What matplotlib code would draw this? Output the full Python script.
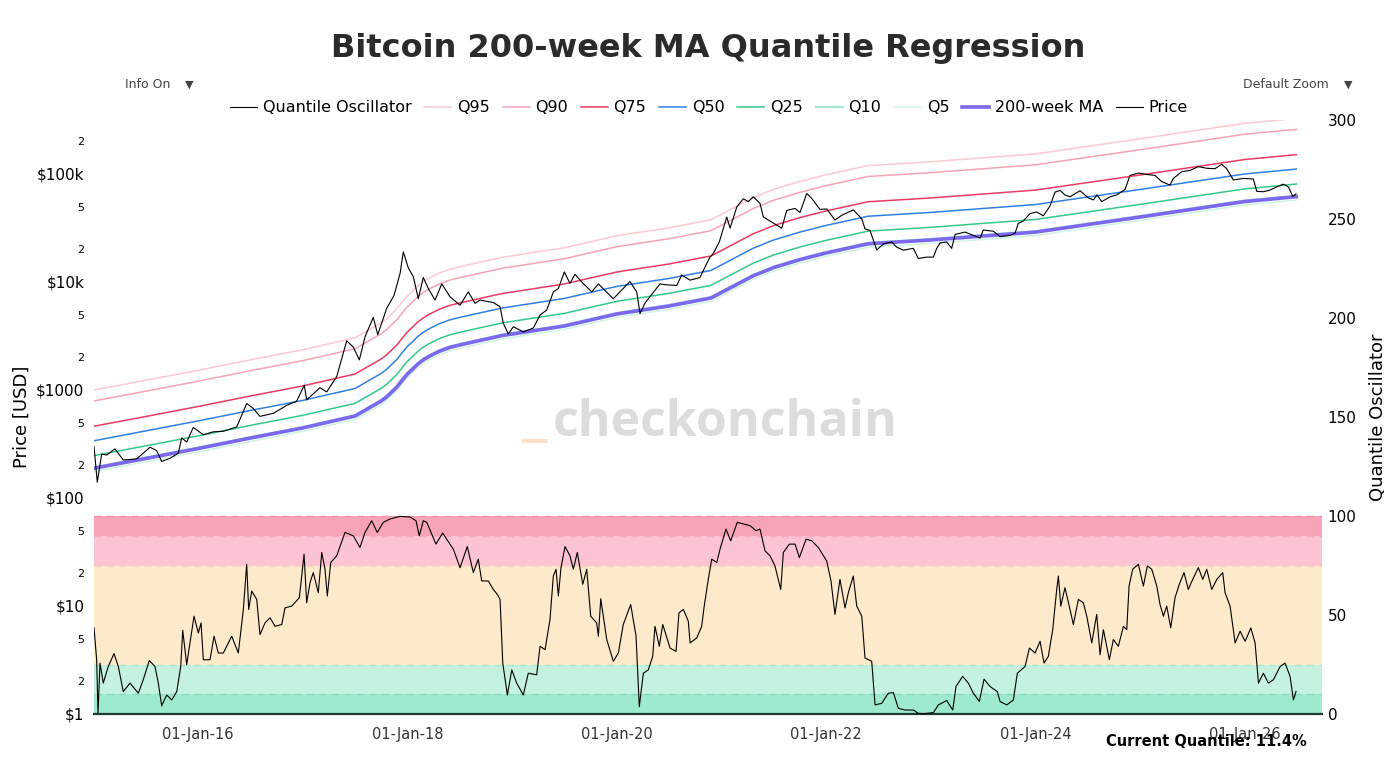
import matplotlib
matplotlib.use("Agg")
from matplotlib import pyplot as plt

# time axis is in decimal years

# Bitcoin price (USD)
price_t = [2015.007, 2015.038, 2015.080, 2015.128, 2015.207, 2015.286, 2015.414, 2015.541, 2015.605, 2015.653,
           2015.733, 2015.812, 2015.844, 2015.892, 2015.955, 2016.051, 2016.146, 2016.242, 2016.370, 2016.465,
           2016.528, 2016.592, 2016.719, 2016.847, 2016.943, 2017.015, 2017.038, 2017.165, 2017.229, 2017.325,
           2017.420, 2017.483, 2017.541, 2017.595, 2017.674, 2017.717, 2017.802, 2017.872, 2017.930, 2017.961,
           2018.009, 2018.057, 2018.104, 2018.152, 2018.200, 2018.264, 2018.328, 2018.407, 2018.503, 2018.582,
           2018.646, 2018.694, 2018.821, 2018.885, 2018.916, 2018.964, 2019.012, 2019.107, 2019.203, 2019.267,
           2019.331, 2019.394, 2019.442, 2019.499, 2019.553, 2019.601, 2019.665, 2019.761, 2019.824, 2019.967,
           2020.126, 2020.190, 2020.222, 2020.270, 2020.349, 2020.413, 2020.477, 2020.573, 2020.620, 2020.700,
           2020.795, 2020.859, 2020.891, 2020.922, 2020.980, 2021.050, 2021.082, 2021.146, 2021.209, 2021.257,
           2021.304, 2021.368, 2021.400, 2021.448, 2021.528, 2021.576, 2021.623, 2021.703, 2021.750, 2021.814,
           2021.862, 2021.941, 2022.005, 2022.084, 2022.149, 2022.259, 2022.340, 2022.371, 2022.419, 2022.483,
           2022.546, 2022.626, 2022.674, 2022.737, 2022.833, 2022.880, 2022.960, 2023.024, 2023.056, 2023.088,
           2023.151, 2023.199, 2023.231, 2023.326, 2023.406, 2023.470, 2023.501, 2023.597, 2023.661, 2023.756,
           2023.804, 2023.835, 2023.883, 2023.947, 2024.011, 2024.074, 2024.138, 2024.186, 2024.234, 2024.281,
           2024.329, 2024.425, 2024.504, 2024.552, 2024.587, 2024.632, 2024.712, 2024.775, 2024.855, 2024.902,
           2024.982, 2025.062, 2025.141, 2025.205, 2025.284, 2025.316, 2025.396, 2025.476, 2025.555, 2025.635,
           2025.714, 2025.778, 2025.826, 2025.889, 2025.985, 2026.080, 2026.113, 2026.176, 2026.240, 2026.304,
           2026.367, 2026.415, 2026.457, 2026.488]
price_v = [298, 140, 255, 250, 285, 225, 230, 295, 275, 218,
           233, 260, 360, 330, 450, 385, 410, 415, 455, 750,
           675, 570, 608, 720, 790, 1110, 810, 1050, 960, 1330,
           2850, 2500, 1900, 3100, 4700, 3250, 5700, 7500, 12000, 19000,
           13500, 11200, 7000, 11000, 8700, 6800, 9600, 7300, 6100, 8100,
           6350, 6800, 6450, 5900, 4150, 3300, 3850, 3450, 3750, 4950,
           5500, 8100, 8700, 12400, 9700, 11800, 10000, 8100, 9600, 7000,
           10100, 8100, 5100, 6400, 8000, 9600, 9400, 9300, 11600, 10400,
           11000, 14800, 17000, 18400, 23600, 40000, 31500, 49500, 59000, 55500,
           61500, 53500, 40000, 37500, 33700, 31500, 46000, 48000, 44000, 66000,
           59500, 47000, 47500, 37500, 41500, 46500, 38500, 31000, 30000, 19800,
           22500, 23500, 21000, 19700, 20500, 16500, 17000, 17000, 20500, 23000,
           23500, 20500, 27500, 29000, 27000, 25500, 30300, 29500, 26300, 27000,
           28300, 34900, 36700, 43000, 44500, 41000, 50500, 68000, 70500, 64000,
           61500, 70000, 60000, 57500, 64000, 55500, 61500, 64000, 72000, 97000,
           102000, 99000, 97000, 85000, 79000, 91000, 105000, 108000, 117000, 113000,
           112000, 123000, 112000, 88000, 91000, 90000, 69000, 68500, 71000, 76000,
           80500, 76000, 62000, 65500]

# quantile oscillator (0-100)
osc_t = [2015.007, 2015.032, 2015.045, 2015.064, 2015.095, 2015.143, 2015.198, 2015.239, 2015.286, 2015.350,
         2015.430, 2015.477, 2015.535, 2015.589, 2015.621, 2015.653, 2015.701, 2015.749, 2015.797, 2015.835,
         2015.854, 2015.892, 2015.962, 2016.003, 2016.029, 2016.051, 2016.115, 2016.153, 2016.194, 2016.242,
         2016.322, 2016.385, 2016.433, 2016.465, 2016.484, 2016.513, 2016.561, 2016.592, 2016.640, 2016.688,
         2016.736, 2016.800, 2016.831, 2016.895, 2016.968, 2017.013, 2017.038, 2017.070, 2017.101, 2017.149,
         2017.182, 2017.213, 2017.235, 2017.268, 2017.325, 2017.404, 2017.483, 2017.547, 2017.595, 2017.659,
         2017.712, 2017.770, 2017.834, 2017.930, 2018.025, 2018.082, 2018.114, 2018.152, 2018.185, 2018.273,
         2018.337, 2018.439, 2018.503, 2018.572, 2018.630, 2018.677, 2018.710, 2018.773, 2018.821, 2018.859,
         2018.885, 2018.911, 2018.955, 2018.997, 2019.044, 2019.107, 2019.155, 2019.235, 2019.267, 2019.315,
         2019.362, 2019.394, 2019.420, 2019.442, 2019.467, 2019.506, 2019.553, 2019.585, 2019.623, 2019.675,
         2019.713, 2019.751, 2019.808, 2019.824, 2019.847, 2019.904, 2019.967, 2020.015, 2020.062, 2020.133,
         2020.184, 2020.215, 2020.254, 2020.301, 2020.343, 2020.365, 2020.406, 2020.439, 2020.509, 2020.566,
         2020.594, 2020.636, 2020.683, 2020.700, 2020.764, 2020.811, 2020.833, 2020.874, 2020.907, 2020.955,
         2020.986, 2021.043, 2021.088, 2021.151, 2021.209, 2021.273, 2021.330, 2021.368, 2021.416, 2021.464,
         2021.511, 2021.566, 2021.591, 2021.648, 2021.703, 2021.744, 2021.808, 2021.862, 2021.925, 2022.005,
         2022.046, 2022.084, 2022.132, 2022.180, 2022.212, 2022.259, 2022.292, 2022.340, 2022.371, 2022.435,
         2022.467, 2022.531, 2022.594, 2022.642, 2022.689, 2022.753, 2022.833, 2022.880, 2022.944, 2023.024,
         2023.072, 2023.151, 2023.209, 2023.240, 2023.304, 2023.358, 2023.406, 2023.463, 2023.508, 2023.565,
         2023.635, 2023.661, 2023.725, 2023.788, 2023.826, 2023.900, 2023.941, 2023.995, 2024.043, 2024.081,
         2024.122, 2024.164, 2024.202, 2024.218, 2024.241, 2024.281, 2024.329, 2024.361, 2024.409, 2024.456,
         2024.489, 2024.537, 2024.584, 2024.616, 2024.648, 2024.705, 2024.743, 2024.791, 2024.839, 2024.871,
         2024.893, 2024.928, 2024.982, 2025.030, 2025.068, 2025.110, 2025.158, 2025.189, 2025.221, 2025.253,
         2025.291, 2025.332, 2025.373, 2025.418, 2025.459, 2025.501, 2025.555, 2025.597, 2025.635, 2025.683,
         2025.731, 2025.788, 2025.810, 2025.858, 2025.906, 2025.954, 2026.002, 2026.056, 2026.097, 2026.129,
         2026.176, 2026.224, 2026.272, 2026.336, 2026.383, 2026.431, 2026.463, 2026.488]
osc_v = [43.5, 27.4, 0.5, 25.7, 15.6, 24, 30.5, 24, 11.3, 15.6,
         10.5, 17.3, 27, 24, 15.6, 4.1, 9.6, 7.1, 11.3, 24,
         42.3, 24.9, 49.4, 40.9, 46, 27.4, 27.4, 39.3, 30.8, 30.8,
         39.3, 30.8, 52.8, 75.6, 52.8, 62.1, 57.9, 40.1, 46, 48.6,
         44.3, 45.2, 53.6, 54.5, 58.7, 80.7, 56.2, 66.3, 71.4, 61.3,
         81.6, 73.1, 59.6, 76.5, 79.9, 91.7, 90, 84.1, 91.7, 97.6,
         91.7, 96.8, 98.5, 99.8, 99.5, 97.6, 90, 97.6, 96.8, 85.8,
         91.4, 83.2, 73.9, 84.6, 71.4, 78.2, 67.2, 67.2, 62.9, 60.4,
         57.9, 25.7, 9.6, 22.3, 15.6, 9.6, 20.6, 19.8, 34.2, 32.5,
         47.7, 69.7, 73.1, 59.6, 73.9, 84.6, 79.9, 73.1, 81.6, 65.5,
         73.1, 49.4, 46, 39.3, 58.2, 37.6, 26.6, 30.8, 45.2, 55.3,
         39.3, 3.7, 20.6, 22.3, 29.1, 44.3, 34.2, 45.2, 33.3, 31.6,
         51.1, 52.8, 46.9, 35.9, 38.4, 44.3, 53.6, 68, 78.2, 76.5,
         83.2, 93.4, 87.5, 96.8, 96, 95.1, 92.6, 93.4, 82.4, 79.9,
         74.8, 62.9, 81.6, 85.8, 85.8, 79, 88.3, 87.5, 84.1, 77.3,
         67.2, 50.3, 68, 53.6, 61.3, 69.7, 54.5, 49.4, 28.3, 26.6,
         4.6, 5.4, 10.5, 10.8, 2.9, 2, 2, 0.3, 0.2, 0.7,
         4.6, 6.8, 2, 13.9, 19, 15.6, 10.5, 6.3, 17.6, 13.9,
         11.3, 6.3, 4.6, 7.1, 20.6, 24, 33.3, 30.8, 36.7, 25.7,
         29.1, 42.6, 62.9, 69.7, 54.5, 63.8, 52.8, 45.2, 57.9, 56.2,
         49.4, 35.9, 50.3, 29.9, 42.6, 27.4, 37.6, 34.2, 44.3, 42.6,
         64.6, 73.1, 75.6, 64.6, 74.8, 73.1, 64.6, 55.3, 49.4, 54.5,
         43.5, 58.7, 65.5, 71.4, 62.9, 68, 73.9, 68, 73.1, 62.9,
         68, 71.4, 61.3, 54.5, 35.9, 41.8, 36.7, 43.5, 35.9, 15.6,
         20.6, 15.6, 17.3, 24, 25.7, 19, 7.1, 11.4]

# smooth model lines
band_t = [2015.0, 2015.5, 2016.0, 2016.5, 2017.0, 2017.5, 2017.75, 2017.8, 2017.9, 2017.95,
          2018.0, 2018.05, 2018.1, 2018.15, 2018.2, 2018.3, 2018.4, 2018.5, 2018.9, 2019.5,
          2020.0, 2020.5, 2020.9, 2021.1, 2021.3, 2021.5, 2021.75, 2022.0, 2022.4, 2023.0,
          2024.0, 2025.0, 2026.0, 2026.49]
ma200 = [188, 232, 287, 359, 445, 574, 791, 860, 1066, 1230,
         1406, 1560, 1740, 1896, 2030, 2272, 2470, 2612, 3184, 3915,
         5055, 5995, 7110, 8990, 11370, 13620, 16110, 18570, 22580, 24490,
         28970, 39980, 55620, 61640]
q95 = [996, 1230, 1521, 1903, 2359, 3042, 4192, 4558, 5650, 6519,
       7452, 8268, 9222, 10050, 10760, 12040, 13090, 13840, 16880, 20750,
       26790, 31770, 37680, 47650, 60260, 72190, 85380, 98420, 119700, 129800,
       153500, 211900, 294800, 326700]
q90 = [790, 974, 1205, 1508, 1869, 2411, 3322, 3612, 4477, 5166,
       5905, 6552, 7308, 7963, 8526, 9542, 10370, 10970, 13370, 16440,
       21230, 25180, 29860, 37760, 47750, 57200, 67660, 77990, 94840, 102900,
       121700, 167900, 233600, 258900]
q75 = [461, 568, 703, 880, 1090, 1406, 1938, 2107, 2612, 3014,
       3445, 3822, 4263, 4645, 4974, 5566, 6052, 6399, 7801, 9592,
       12380, 14690, 17420, 22030, 27860, 33370, 39470, 45500, 55320, 60000,
       70980, 97950, 136300, 151000]
q50 = [338, 418, 517, 646, 801, 1033, 1424, 1548, 1919, 2214,
       2531, 2808, 3132, 3413, 3654, 4090, 4446, 4702, 5731, 7047,
       9099, 10790, 12800, 16180, 20470, 24520, 29000, 33430, 40640, 44080,
       52150, 71960, 100100, 111000]
q25 = [246, 304, 376, 470, 583, 752, 1036, 1127, 1396, 1611,
       1842, 2044, 2279, 2484, 2659, 2976, 3236, 3422, 4171, 5129,
       6622, 7853, 9314, 11780, 14890, 17840, 21100, 24330, 29580, 32080,
       37950, 52370, 72860, 80750]
q10 = [192, 237, 293, 366, 454, 585, 807, 877, 1087, 1255,
       1434, 1591, 1775, 1934, 2071, 2317, 2519, 2664, 3248, 3993,
       5156, 6115, 7252, 9170, 11600, 13890, 16430, 18940, 23030, 24980,
       29550, 40780, 56730, 62870]
q5 = [175, 216, 267, 334, 414, 534, 736, 800, 991, 1144,
      1308, 1451, 1618, 1763, 1888, 2113, 2297, 2429, 2961, 3641,
      4701, 5575, 6612, 8361, 10570, 12670, 14980, 17270, 21000, 22780,
      26940, 37180, 51730, 57330]

# oscillator zones
zone_edges = [0, 10, 25, 75, 90, 100]
zone_colors = ["#9deacc", "#c4f2de", "#fdeacb", "#fcc4d2", "#f9a4b6"]
zone_lines = ["#86dcb8", "#a9e6cb", "#f3d9b0", "#f6adbf", "#f28ea5"]

x_ticks = [2016, 2018, 2020, 2022, 2024, 2026]
x_labels = ["01-Jan-16", "01-Jan-18", "01-Jan-20", "01-Jan-22", "01-Jan-24", "01-Jan-26"]
y_major = [1, 10, 100, 1000, 10000, 100000]
y_major_lab = ["$1", "$10", "$100", "$1000", "$10k", "$100k"]
y_minor = [2, 5, 20, 50, 200, 500, 2000, 5000, 20000, 50000, 200000]
y_minor_lab = ["2", "5", "2", "5", "2", "5", "2", "5", "2", "5", "2"]
r_ticks = [0, 50, 100, 150, 200, 250, 300]

W, H = 1393, 782
fig = plt.figure(figsize=(W / 100, H / 100), dpi=100)
ax = fig.add_axes([94 / W, 68 / H, 1228 / W, 594 / H])
ax2 = ax.twinx()

lines = {}
lines["Q95"], = ax.plot(band_t, q95, color="#fcc9d3", lw=1.1)
lines["Q90"], = ax.plot(band_t, q90, color="#f7a3b6", lw=1.1)
lines["Q75"], = ax.plot(band_t, q75, color="#eb3b62", lw=1.1)
lines["Q50"], = ax.plot(band_t, q50, color="#2f80e6", lw=1.1)
lines["Q25"], = ax.plot(band_t, q25, color="#34c98a", lw=1.1)
lines["Q10"], = ax.plot(band_t, q10, color="#a6e8cc", lw=1.6)
lines["Q5"], = ax.plot(band_t, q5, color="#cff4e4", lw=1.1)
lines["200-week MA"], = ax.plot(band_t, ma200, color="#7b68ee", lw=2.6)
lines["Price"], = ax.plot(price_t, price_v, color="black", lw=0.8)

for lo, hi, c in zip(zone_edges[:-1], zone_edges[1:], zone_colors):
    ax2.axhspan(lo, hi, color=c, lw=0, zorder=0)
for e, c in zip(zone_edges[1:], zone_lines):
    ax2.axhline(e, color=c, lw=1, ls=(0, (5, 4)), zorder=1)
lines["Quantile Oscillator"], = ax2.plot(osc_t, osc_v, color="black", lw=0.8, zorder=3)

ax.set_yscale("log")
ax.set_ylim(1, 10 ** 5.5)
ax2.set_ylim(0, 300)
ax.set_xlim(2015.0066, 2026.736)

ax.set_xticks(x_ticks, x_labels)
ax.set_yticks(y_major, y_major_lab)
ax.set_yticks(y_minor, y_minor_lab, minor=True)
ax.tick_params(axis="y", which="major", length=0, pad=7, labelsize=11)
ax.tick_params(axis="y", which="minor", length=0, pad=7, labelsize=8)
ax.tick_params(axis="x", length=0, pad=9, labelsize=10.5, labelcolor="#333333")
ax2.set_yticks(r_ticks)
ax2.tick_params(axis="y", length=0, pad=4, labelsize=11)

for s in ax.spines.values():
    s.set_visible(False)
for name, s in ax2.spines.items():
    s.set_visible(name == "bottom")
ax2.spines["bottom"].set_color("#1d3b30")
ax2.spines["bottom"].set_linewidth(1.6)

ax.set_ylabel("Price [USD]", fontsize=13, labelpad=4)
ax2.set_ylabel("Quantile Oscillator", fontsize=13, labelpad=9)

order = ["Quantile Oscillator", "Q95", "Q90", "Q75", "Q50", "Q25", "Q10", "Q5", "200-week MA", "Price"]
fig.legend([lines[k] for k in order], order, loc="center", bbox_to_anchor=(709 / W, 1 - 108 / H),
           ncol=10, frameon=False, fontsize=11.5, handlelength=1.7, handletextpad=0.35, columnspacing=0.8)

fig.text(708 / W, 1 - 48 / H, "Bitcoin 200-week MA Quantile Regression", ha="center", va="center",
         fontsize=23, fontweight="bold", color="#2b2b2b")
fig.text(125 / W, 1 - 85 / H, "Info On", ha="left", va="center", fontsize=9, color="#444444")
fig.text(189 / W, 1 - 85 / H, "\u25bc", ha="center", va="center", fontsize=8, color="#444444")
fig.text(1243 / W, 1 - 85 / H, "Default Zoom", ha="left", va="center", fontsize=9, color="#444444")
fig.text(1348 / W, 1 - 85 / H, "\u25bc", ha="center", va="center", fontsize=8, color="#444444")
fig.text(1307 / W, 1 - 741 / H, "Current Quantile: 11.4%", ha="right", va="center",
         fontsize=10.5, fontweight="bold", color="black")

# watermark
fig.text(521 / W, 1 - 433 / H, "_", ha="left", va="baseline", fontsize=44, fontweight="bold",
         color="#fde0c6", family="Open Sans")
fig.text(553 / W, 1 - 436 / H, "checkonchain", ha="left", va="baseline", fontsize=36,
         fontweight="bold", color="#dcdcdc", family="Open Sans")

fig.savefig("out.png", dpi=100)
